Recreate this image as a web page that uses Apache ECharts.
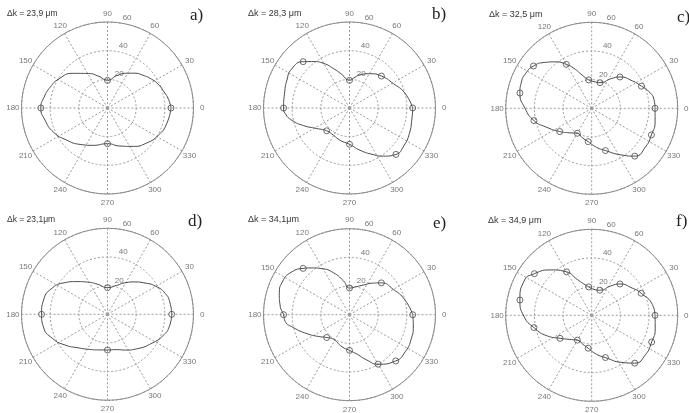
<!DOCTYPE html>
<html><head><meta charset="utf-8">
<script src="https://cdn.jsdelivr.net/npm/echarts@6/dist/echarts.min.js"></script>
<style>html,body{margin:0;padding:0;background:#fff}#c{width:689px;height:413px}</style>
</head><body><div id="c"></div>
<script>
// ---- tick labels ----
const angleTicks = [0,30,60,90,120,150,180,210,240,270,300,330];
const angleTickLabels = ['0','30','60','90','120','150','180','210','240','270','300','330'];
const radiusTicks = [20,40,60];
const radiusTickLabels = ['20','40','60'];
const panelTitles = ['\u0394k = 23,9 \u03bcm','\u0394k = 28,3 \u03bcm','\u0394k = 32,5 \u03bcm','\u0394k = 23,1\u03bcm','\u0394k = 34,1\u03bcm','\u0394k = 34,9 \u03bcm'];
const panelLetters = ['a)','b)','c)','d)','e)','f)'];

// ---- panel a ----
const aCurveAngle = [0,8,16,24,33,43,52,60,74,90,105,119,135,149,160,170,180,191,204,218,233,249,270,288,304,318,332,345,360];
const aCurveR     = [44.3,43,41,39.3,36.8,33.6,30.8,28,23.5,19.3,22.8,27.5,34.2,39.5,42.5,44.8,46.5,44.4,41.3,36.3,31.8,27.9,24.9,27.9,32.3,36.6,40.3,42.7,44.3];
const aMarkAngle  = [0,90,180,270];
const aMarkR      = [44.3,19.3,46.5,24.9];
// ---- panel b ----
const bCurveAngle = [0,15,29,45,59,72,80,90,103,112,120,128,135,146,156,168,180,185,192,201,212,225,240,254,270,284,297,305,315,325,337,350,360];
const bCurveR     = [44.1,40,35,31.5,27.9,24.4,21.8,19.3,24.1,29.6,35.9,41.1,45.7,48.7,47.8,46.4,46,45,41.1,34.3,27,22.5,22.1,23.5,25.3,30.4,36.5,41,45.8,46.2,45.4,44.2,44.1];
const bMarkAngle  = [0,45,90,135,180,225,270,315];
const bMarkR      = [44.1,31.5,19.3,45.7,46,22.5,25.3,45.8];
// ---- panel c ----
const cCurveAngle = [0,8,16,24,34,48,57,72,85,96,106,114,120,128,136,144,152,160,168,180,192,202,216,228,240,252,264,277,288,302,312,325,336,348,360];
const cCurveR     = [44.2,43.9,41.7,38,34.2,29.4,24.6,18.8,18.7,19.9,24.1,30.5,35.4,41.1,46,50.2,52.1,52.3,51.2,46.5,41.2,34.6,27.6,23,20.1,21.5,23.4,27.4,31,38.3,44.9,46.2,45.6,45.2,44.2];
const cMarkAngle  = [0,24,48,72,96,120,144,168,192,216,240,264,288,312,336];
const cMarkR      = [44.2,38,29.4,18.8,19.9,35.4,50.2,51.2,41.2,27.6,20.1,23.4,31,44.9,45.6];
// ---- panel d ----
const dCurveAngle = [0,11,20,30,41,50,60,73,90,108,122,133,145,156,166,180,191,204,216,229,243,257,270,284,297,311,327,339,349,360];
const dCurveR     = [44.8,44.3,42.8,39,33.5,29.5,25.5,21,18.6,22,26.5,31.2,38,43.2,45.6,46,45.6,41.8,36.5,31,27.5,25.5,24.9,25.4,28,31.8,37,41.5,44,44.8];
const dMarkAngle  = [0,90,180,270];
const dMarkR      = [44.8,18.6,46,24.9];
// ---- panel e ----
const eCurveAngle = [0,15,30,45,55,65,76,90,100,111,121,129,135,145,153,163,173,180,186,193,204,215,225,237,257,270,281,291,300,315,327,338,350,360];
const eCurveR     = [44.1,40,35.3,31.4,26.8,22.8,20.2,18.6,23.9,31.4,37.5,42,45.7,50.7,52.1,51.2,48.7,46,45.1,40.1,32.5,26.5,22.5,20.5,23,24.9,28.1,33.9,39.9,45.6,46.7,46.3,45.2,44.1];
const eMarkAngle  = [0,45,90,135,180,225,270,300,315];
const eMarkR      = [44.1,31.4,18.6,45.7,46,22.5,24.9,39.9,45.6];
// ---- panel f ----
const fCurveAngle = [0,10,24,34,48,57,72,85,96,112,120,132,144,153,168,181,192,205,216,227,240,253,264,277,288,302,312,324,336,348,360];
const fCurveR     = [44.2,43,37.8,34,29.4,24.4,18.4,18.2,19.9,27,35,42.6,49.4,52.9,51.2,47.2,41.2,34.1,27.3,23,20,21.1,23.1,27.4,31,38.7,44.9,46.5,45.8,45.3,44.2];
const fMarkAngle  = [0,24,48,72,96,120,144,168,192,216,240,264,288,312,336];
const fMarkR      = [44.2,37.8,29.4,18.4,19.9,35,49.4,51.2,41.2,27.3,20,23.1,31,44.9,45.8];

// ---- layout (positions & styles) ----
const centers = [[107.5,108],[349.5,108],[591.7,108.3],[107.5,314.3],[349.5,314.7],[591.7,315.3]];
const R = 86;
const titlePos = [[7,9],[248,9],[489,10],[7,215],[248,215],[488,216]];
const titleSize = [8.5,9,9,8.5,9,9];
const letterPos = [[190,7],[432,6],[677,9],[188,213],[433,215],[676,213]];
const panels = [
  [aCurveAngle,aCurveR,aMarkAngle,aMarkR],
  [bCurveAngle,bCurveR,bMarkAngle,bMarkR],
  [cCurveAngle,cCurveR,cMarkAngle,cMarkR],
  [dCurveAngle,dCurveR,dMarkAngle,dMarkR],
  [eCurveAngle,eCurveR,eMarkAngle,eMarkR],
  [fCurveAngle,fCurveR,fMarkAngle,fMarkR]
];
const gridColor = '#9a9a9a';
const labelColor = '#555';
const sans = 'Liberation Sans, Arial, sans-serif';

const polar = [], angleAxis = [], radiusAxis = [], series = [], title = [];
panels.forEach((p, i) => {
  polar.push({center: centers[i], radius: R});
  angleAxis.push({
    polarIndex: i, type: 'value', min: 0, max: 360, interval: 30,
    startAngle: 0, clockwise: false,
    axisLine: {show: true, lineStyle: {color: '#8c8c8c', width: 1}},
    axisTick: {show: false}, axisLabel: {show: false},
    splitLine: {show: true, lineStyle: {color: gridColor, width: 1, type: [2, 2]}}
  });
  radiusAxis.push({
    polarIndex: i, type: 'value', min: 0, max: 60, interval: 20,
    axisLine: {show: false}, axisTick: {show: false}, axisLabel: {show: false},
    splitLine: {show: true, lineStyle: {color: gridColor, width: 1, type: [2, 2]}}
  });
  const [ca, cr, ma, mr] = p;
  series.push({
    type: 'line', coordinateSystem: 'polar', polarIndex: i,
    data: cr.map((r, k) => [r, ca[k]]),
    smooth: 0.55, showSymbol: false, silent: true, clip: false,
    lineStyle: {color: '#4a4a4a', width: 1}
  });
  series.push({
    type: 'scatter', coordinateSystem: 'polar', polarIndex: i,
    data: mr.map((r, k) => [r, ma[k]]),
    symbol: 'circle', symbolSize: 6, silent: true, clip: false,
    itemStyle: {color: 'rgba(255,255,255,0)', borderColor: '#4a4a4a', borderWidth: 1}
  });
  series.push({
    type: 'scatter', coordinateSystem: 'polar', polarIndex: i,
    data: angleTicks.map(a => [66, a]),
    symbolSize: 1, silent: true, clip: false,
    itemStyle: {color: 'rgba(0,0,0,0)'},
    label: {show: true, position: 'inside', align: 'center', verticalAlign: 'middle',
      formatter: q => angleTickLabels[q.dataIndex], fontSize: 8, color: labelColor, fontFamily: sans}
  });
  series.push({
    type: 'scatter', coordinateSystem: 'polar', polarIndex: i,
    data: radiusTicks.map(r => [r + 1, 82]),
    symbolSize: 1, silent: true, clip: false,
    itemStyle: {color: 'rgba(0,0,0,0)'},
    label: {show: true, position: 'inside', align: 'left', verticalAlign: 'bottom', offset: [3, 0],
      formatter: q => radiusTickLabels[q.dataIndex], fontSize: 8, color: labelColor, fontFamily: sans}
  });
  title.push({text: panelTitles[i], left: titlePos[i][0], top: titlePos[i][1], padding: 0,
    textStyle: {fontSize: titleSize[i], fontWeight: 'normal', color: '#333', fontFamily: sans}});
  title.push({text: panelLetters[i], left: letterPos[i][0], top: letterPos[i][1], padding: 0,
    textStyle: {fontSize: 17, fontWeight: 'normal', color: '#222', fontFamily: 'Liberation Serif, Times New Roman, serif'}});
});

const chart = echarts.init(document.getElementById('c'), null, {renderer: 'canvas'});
chart.setOption({
  backgroundColor: '#ffffff',
  animation: false,
  title, polar, angleAxis, radiusAxis, series
});
</script></body></html>
